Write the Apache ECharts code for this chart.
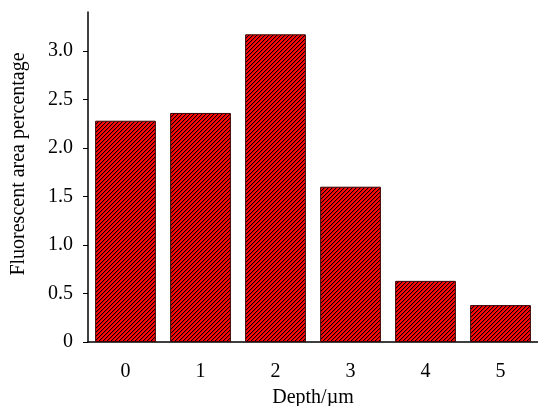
<!DOCTYPE html>
<html>
<head>
<meta charset="utf-8">
<script src="https://cdn.jsdelivr.net/npm/echarts@6/dist/echarts.min.js"></script>
<style>
  html, body { margin: 0; padding: 0; background: #fff; }
  #chart { width: 538px; height: 406px; }
</style>
</head>
<body>
<div id="chart"></div>
<script>
// 数据
var depths = ['0', '1', '2', '3', '4', '5'];
var areaPct = [2.28, 2.36, 3.17, 1.60, 0.63, 0.38];
var yTicks = [0, 0.5, 1.0, 1.5, 2.0, 2.5, 3.0];

// 红底黑斜线的填充
function hatch() {
  var c = document.createElement('canvas');
  c.width = 4;
  c.height = 4;
  var ctx = c.getContext('2d');
  ctx.fillStyle = '#ff0a0a';
  ctx.fillRect(0, 0, 4, 4);
  for (var i = 0; i < 4; i++) {
    ctx.fillStyle = '#000';
    ctx.fillRect(i, 3 - i, 1, 1);
    ctx.fillStyle = '#d00000';
    ctx.fillRect(i, (4 - i) % 4, 1, 1);
  }
  return c;
}

var font = '"Liberation Serif", "Times New Roman", serif';
var chart = echarts.init(document.getElementById('chart'));
chart.setOption({
  animation: false,
  grid: { left: 88, right: 0, top: 12, bottom: 64, outerBoundsMode: 'none' },
  xAxis: {
    type: 'category',
    data: depths,
    name: 'Depth/\u00b5m',
    nameLocation: 'middle',
    nameGap: 46,
    nameTextStyle: { fontFamily: font, fontSize: 20, color: '#000' },
    axisLine: { lineStyle: { color: '#000', width: 1.5 } },
    axisTick: { inside: true, length: 4, alignWithLabel: true, lineStyle: { color: '#000' } },
    axisLabel: { fontFamily: font, fontSize: 20, color: '#000', margin: 20 }
  },
  yAxis: {
    type: 'value',
    min: 0,
    max: 3.4,
    name: 'Fluorescent area percentage',
    nameLocation: 'middle',
    nameGap: 59,
    nameTextStyle: { fontFamily: font, fontSize: 20, color: '#000', padding: [0, 0, 0, 26] },
    splitLine: { show: false },
    axisLine: { show: true, lineStyle: { color: '#000', width: 1.5 } },
    axisTick: { show: true, length: 5, customValues: yTicks, lineStyle: { color: '#000' } },
    axisLabel: {
      fontFamily: font, fontSize: 20, color: '#000', margin: 15,
      customValues: yTicks,
      formatter: function (v) { return v === 0 ? '0' : v.toFixed(1); }
    }
  },
  series: [{
    type: 'bar',
    data: areaPct,
    barWidth: '81%',
    itemStyle: {
      color: { image: hatch(), repeat: 'repeat' },
      borderColor: '#3a0000',
      borderWidth: 1
    }
  }]
});
</script>
</body>
</html>
